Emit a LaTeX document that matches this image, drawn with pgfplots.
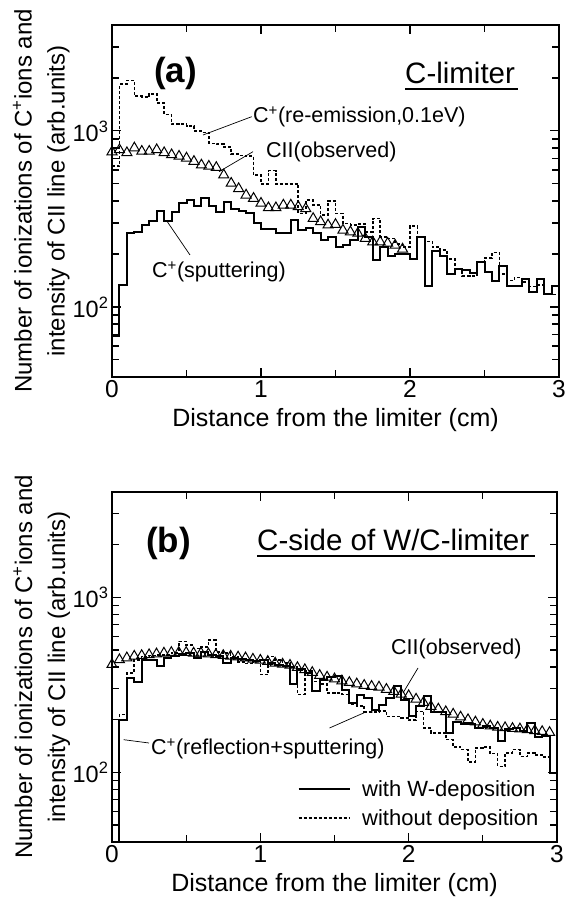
\documentclass[border=0pt]{standalone}
\usepackage{fontspec}
\setmainfont{Liberation Sans}
\usepackage{pgfplots}
\pgfplotsset{compat=1.18}
\usepackage{pgfplotstable}

% panel (a): histograms, bin left edges
\pgfplotstableread{
x sa da
0.00 68 630
0.05 134 1842
0.10 264 1937
0.15 268 1578
0.20 292 1560
0.25 307 1627
0.30 351 1445
0.35 307 1239
0.40 346 1096
0.45 388 1096
0.50 405 1064
0.55 376 1000
0.60 414 980
0.65 376 850
0.70 346 840
0.75 393 810
0.80 360 740
0.85 350 725
0.90 340 720
0.95 300 560
1.00 279 500
1.05 279 595
1.10 262 500
1.15 262 500
1.20 310 500
1.25 273 340
1.30 280 405
1.35 262 379
1.40 240 333
1.45 250 400
1.50 220 340
1.55 225 298
1.60 240 292
1.65 285 295
1.70 250 267
1.75 184 318
1.80 219 250
1.85 196 245
1.90 201 228
1.95 201 219
2.00 188 289
2.05 250 250
2.10 132 236
2.15 207 219
2.20 195 210
2.25 154 188
2.30 165 165
2.35 163 150
2.40 156 150
2.45 181 180
2.50 159 190
2.55 141 204
2.60 172 154
2.65 132 141
2.70 131 147
2.75 145 139
2.80 121 131
2.85 145 133
2.90 119 118
2.95 131 118
3.00 100 95
}\panela

\pgfplotstableread{
x y
0.00 760
0.05 782
0.10 752
0.15 800
0.20 766
0.25 766
0.30 782
0.35 752
0.40 732
0.45 718
0.50 701
0.55 671
0.60 640
0.65 630
0.70 620
0.75 562
0.80 504
0.85 470
0.90 432
0.95 414
1.00 388
1.05 366
1.10 366
1.15 379
1.20 379
1.25 371
1.30 362
1.35 318
1.40 305
1.45 292
1.50 294
1.55 273
1.60 267
1.65 262
1.70 245
1.75 234
1.80 234
1.85 230
1.90 224
1.95 213
}\tria

% panel (b)
\pgfplotstableread{
x sb db
0.00 20 20
0.05 200 214
0.10 346 370
0.15 327 440
0.20 440 460
0.25 440 465
0.30 407 468
0.35 451 470
0.40 461 480
0.45 477 560
0.50 480 533
0.55 448 511
0.60 490 522
0.65 470 570
0.70 461 487
0.75 424 480
0.80 451 457
0.85 445 428
0.90 440 418
0.95 431 430
1.00 440 362
1.05 420 460
1.10 413 440
1.15 403 420
1.20 320 400
1.25 390 278
1.30 370 380
1.35 290 330
1.40 335 320
1.45 350 284
1.50 354 284
1.55 297 278
1.60 249 244
1.65 278 240
1.70 266 222
1.75 228 222
1.80 244 225
1.85 266 209
1.90 310 209
1.95 260 205
2.00 210 199
2.05 238 223
2.10 272 179
2.15 220 168
2.20 222 168
2.25 168 154
2.30 193 140
2.35 190 135
2.40 190 115
2.45 179 138
2.50 183 140
2.55 180 128
2.60 152 108
2.65 176 129
2.70 179 135
2.75 172 123
2.80 192 129
2.85 160 126
2.90 162 122
2.95 99 99
3.00 99 99
}\panelb

\pgfplotstableread{
x y
0.00 413
0.05 440
0.10 451
0.15 461
0.20 465
0.25 470
0.30 475
0.35 480
0.40 484
0.45 484
0.50 484
0.55 480
0.60 480
0.65 475
0.70 470
0.75 465
0.80 461
0.85 456
0.90 451
0.95 443
1.00 437
1.05 430
1.10 421
1.15 415
1.20 409
1.25 397
1.30 386
1.35 372
1.40 358
1.45 350
1.50 342
1.55 333
1.60 326
1.65 320
1.70 314
1.75 310
1.80 307
1.85 298
1.90 290
1.95 280
2.00 274
2.05 262
2.10 251
2.15 238
2.20 230
2.25 222
2.30 215
2.35 207
2.40 200
2.45 194
2.50 188
2.55 184
2.60 181
2.65 180
2.70 178
2.75 177
2.80 175
2.85 173
2.90 171
2.95 169
}\trib

\begin{document}
\begin{tikzpicture}
\useasboundingbox (0pt,0pt) rectangle (567pt,899pt);

% ---------------- panel (a)
\begin{axis}[width=447pt, height=352pt, at={(112pt,522pt)}, anchor=south west,
    scale only axis, ymode=log,
    xmin=0, xmax=3, ymin=40, ymax=4000,
    xtick={0,1,2,3}, xticklabels={0,1,2,3},
    minor xtick={0.5,1.5,2.5},
    ytick={100,1000}, yticklabels={10\textsuperscript{2},10\textsuperscript{3}},
    minor ytick={50,60,70,80,90,200,300,400,500,600,700,800,900,2000,3000},
    tick align=inside, major tick length=9pt, minor tick length=7pt,
    tick style={black, line width=1.1pt},
    axis line style={line width=1.3pt},
    tick label style={font=\fontsize{23.5}{28}\selectfont},
    xticklabel style={font=\fontsize{24.5}{28}\selectfont},
    xlabel={Distance from the limiter (cm)},
    xlabel style={font=\fontsize{25}{28}\selectfont, at={(axis description cs:0.5,0)}, anchor=center, yshift=-43pt},
    ylabel={Number of ionizations of C\textsuperscript{+}ions and\\intensity of CII line (arb.units)},
    ylabel style={font=\fontsize{24}{33}\selectfont, align=center, at={(axis description cs:-0.158,0.5)}, anchor=center}]
\addplot[const plot, line width=2pt, black] table[x=x,y=sa]{\panela};
\addplot[const plot, line width=1.6pt, black, dash pattern=on 3pt off 2pt] table[x=x,y=da]{\panela};
\addplot[only marks, mark=triangle, mark size=5.8pt, mark options={line width=1pt, black}] table[x=x,y=y]{\tria};
\end{axis}

\node[anchor=base west, inner sep=0pt, font=\fontsize{35}{38}\selectfont\bfseries] at (154pt,816pt) {(a)};
\node[anchor=base west, inner sep=0pt, font=\fontsize{29.5}{32}\selectfont] at (405pt,815pt) {C-limiter};
\draw[line width=1.7pt] (405pt,810pt) -- (518pt,810pt);
\node[anchor=base west, inner sep=0pt, font=\fontsize{21.5}{24}\selectfont] at (253pt,776pt) {C\textsuperscript{+}(re-emission,0.1eV)};
\node[anchor=base west, inner sep=0pt, font=\fontsize{21.5}{24}\selectfont] at (266pt,741pt) {CII(observed)};
\node[anchor=base west, inner sep=0pt, font=\fontsize{21.5}{24}\selectfont] at (152pt,621pt) {C\textsuperscript{+}(sputtering)};
\draw[line width=0.7pt] (251.7pt,782.3pt) -- (203pt,764pt);
\draw[line width=0.7pt] (253pt,747.3pt) -- (219pt,727.3pt);
\draw[line width=0.7pt] (190pt,644pt) -- (167.3pt,677.3pt);

% ---------------- panel (b)
\begin{axis}[width=445pt, height=350pt, at={(112pt,57pt)}, anchor=south west,
    scale only axis, ymode=log,
    xmin=0, xmax=3, ymin=40, ymax=4000,
    xtick={0,1,2,3}, xticklabels={0,1,2,3},
    minor xtick={0.5,1.5,2.5},
    ytick={100,1000}, yticklabels={10\textsuperscript{2},10\textsuperscript{3}},
    minor ytick={50,60,70,80,90,200,300,400,500,600,700,800,900,2000,3000},
    tick align=inside, major tick length=9pt, minor tick length=7pt,
    tick style={black, line width=1.1pt},
    axis line style={line width=1.3pt},
    tick label style={font=\fontsize{23.5}{28}\selectfont},
    xticklabel style={font=\fontsize{24.5}{28}\selectfont},
    xlabel={Distance from the limiter (cm)},
    xlabel style={font=\fontsize{25}{28}\selectfont, at={(axis description cs:0.5,0)}, anchor=center, yshift=-43pt},
    ylabel={Number of ionizations of C\textsuperscript{+}ions and\\intensity of CII line (arb.units)},
    ylabel style={font=\fontsize{24}{33}\selectfont, align=center, at={(axis description cs:-0.158,0.5)}, anchor=center}]
\addplot[const plot, line width=2pt, black] table[x=x,y=sb]{\panelb};
\addplot[const plot, line width=1.6pt, black, dash pattern=on 3pt off 2pt] table[x=x,y=db]{\panelb};
\addplot[only marks, mark=triangle, mark size=5.8pt, mark options={line width=1pt, black}] table[x=x,y=y]{\trib};
\end{axis}

\node[anchor=base west, inner sep=0pt, font=\fontsize{35}{38}\selectfont\bfseries] at (146pt,346pt) {(b)};
\node[anchor=base west, inner sep=0pt, font=\fontsize{29.5}{32}\selectfont] at (257pt,348pt) {C-side of W/C-limiter};
\draw[line width=1.7pt] (257pt,343pt) -- (535pt,343pt);
\node[anchor=base west, inner sep=0pt, font=\fontsize{21.5}{24}\selectfont] at (391pt,244pt) {CII(observed)};
\node[anchor=base west, inner sep=0pt, font=\fontsize{21.5}{24}\selectfont] at (151pt,144pt) {C\textsuperscript{+}(reflection+sputtering)};
\draw[line width=0.7pt] (418pt,231pt) -- (403pt,206pt);
\draw[line width=0.7pt] (149pt,156pt) -- (123.7pt,159.3pt);
\draw[line width=0.7pt] (329.5pt,171pt) -- (364pt,186.2pt);
% legend
\draw[line width=2pt] (298.5pt,110pt) -- (349.5pt,110pt);
\node[anchor=base west, inner sep=0pt, font=\fontsize{22}{26}\selectfont] at (362pt,102pt) {with W-deposition};
\draw[line width=1.6pt, dash pattern=on 3pt off 2pt] (298.5pt,81pt) -- (349.5pt,81pt);
\node[anchor=base west, inner sep=0pt, font=\fontsize{22}{26}\selectfont] at (362pt,73.5pt) {without deposition};
\end{tikzpicture}
\end{document}
